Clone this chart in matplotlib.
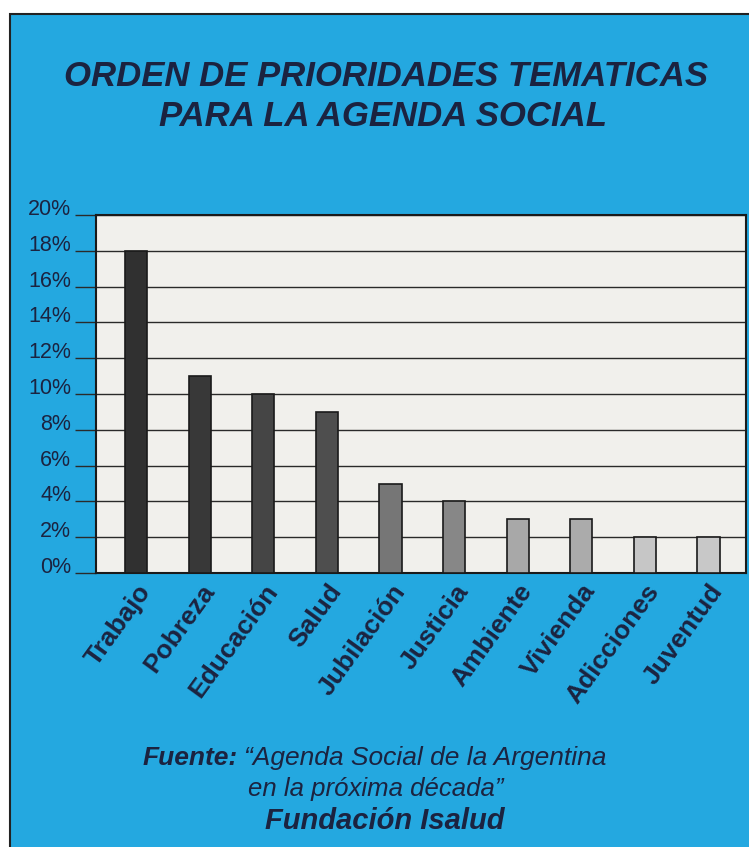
import numpy as np
import matplotlib.pyplot as plt
from matplotlib.patches import Rectangle

temas = ['Trabajo', 'Pobreza', 'Educación', 'Salud', 'Jubilación',
         'Justicia', 'Ambiente', 'Vivienda', 'Adicciones', 'Juventud']
valores = [18, 11, 10, 9, 5, 4, 3, 3, 2, 2]
colores = ['#303030', '#383838', '#454545', '#4e4e4e', '#767676',
           '#878787', '#a8a8a8', '#ababab', '#c6c6c6', '#c8c8c8']
yticks = [0, 2, 4, 6, 8, 10, 12, 14, 16, 18, 20]

azul = '#24a8e0'
tinta = '#1b2340'
W, H = 749, 847

plt.rcParams['font.family'] = ['Liberation Sans', 'DejaVu Sans']

fig = plt.figure(figsize=(W / 100, H / 100), dpi=100, facecolor='white')

# fondo azul con borde
fig.patches.append(Rectangle((10 / W, -0.02), 1.05, 1 - 14 / H + 0.02,
                             transform=fig.transFigure, facecolor=azul,
                             edgecolor='#222222', linewidth=1.5, zorder=-10))

ax = fig.add_axes([96 / W, 1 - 573 / H, (746 - 96) / W, (573 - 215) / H])
ax.set_facecolor('#f1f0ec')

x = np.arange(len(temas))
ax.bar(x, valores, width=0.35, color=colores, edgecolor='#1a1a1a',
       linewidth=1.2, zorder=3)

ax.set_ylim(0, 20)
ax.set_xlim(-0.63, 9.59)
ax.set_yticks(yticks)
ax.set_yticklabels([f'{v}%' for v in yticks])
ax.yaxis.grid(True, color='#2a2a2a', linewidth=1.0, zorder=1)
ax.tick_params(axis='y', length=15, width=1.0, color='#2a2a2a', pad=3,
               labelsize=15.5, labelcolor=tinta)
for lbl in ax.get_yticklabels():
    lbl.set_verticalalignment('baseline')

ax.set_xticks(x)
ax.set_xticklabels(temas, rotation=54, ha='right', rotation_mode='anchor',
                   fontsize=19, fontweight='bold', color=tinta)
ax.tick_params(axis='x', length=0, pad=5)

for s in ax.spines.values():
    s.set_color('#1a1a1a')
    s.set_linewidth(1.5)

fig.text(386 / W, 1 - 77 / H, 'ORDEN DE PRIORIDADES TEMATICAS',
         ha='center', va='center', fontsize=25, fontweight='bold',
         style='italic', color=tinta)
fig.text(383 / W, 1 - 116 / H, 'PARA LA AGENDA SOCIAL',
         ha='center', va='center', fontsize=25, fontweight='bold',
         style='italic', color=tinta)

fig.text(238 / W, 1 - 758 / H, 'Fuente:', ha='right', va='center',
         fontsize=19, fontweight='bold', style='italic', color=tinta)
fig.text(244 / W, 1 - 758 / H, '“Agenda Social de la Argentina',
         ha='left', va='center', fontsize=19, style='italic', color=tinta)
fig.text(376 / W, 1 - 789 / H, 'en la próxima década”',
         ha='center', va='center', fontsize=18.5, style='italic', color=tinta)
fig.text(385 / W, 1 - 821 / H, 'Fundación Isalud', ha='center',
         va='center', fontsize=21, fontweight='bold', style='italic',
         color=tinta)

fig.savefig('out.png', dpi=100, facecolor=fig.get_facecolor())
